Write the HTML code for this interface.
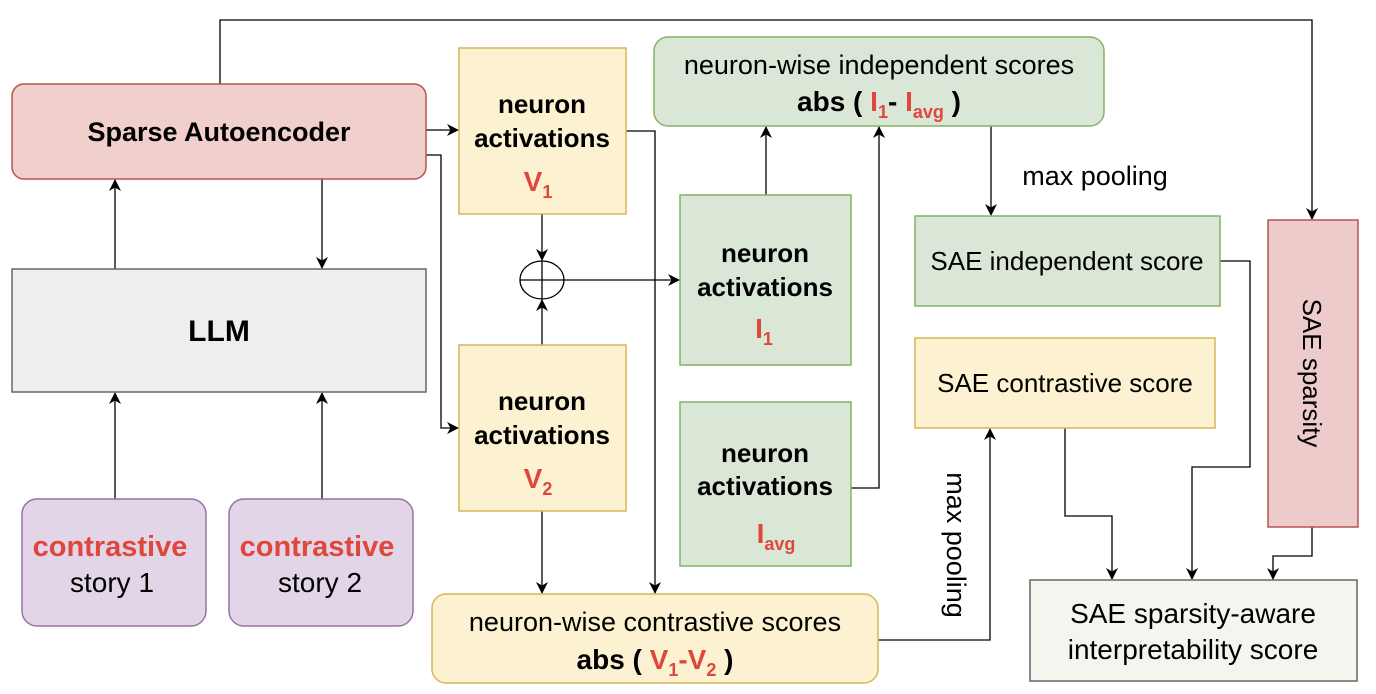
<!DOCTYPE html>
<html><head><style>body{margin:0;background:#fff}svg{display:block}text{font-family:"Liberation Sans",sans-serif}</style></head><body>
<svg width="1376" height="694" viewBox="0 0 1376 694" xmlns="http://www.w3.org/2000/svg">
<defs><marker id="a" markerWidth="12" markerHeight="12" refX="11" refY="6" orient="auto" markerUnits="userSpaceOnUse"><path d="M0,0 L12,6 L0,12 L3.5,6 z" fill="#000"/></marker></defs>
<g fill="none" stroke="#000" stroke-width="1.3">
<path d="M220,84 V20 H1312 V219" marker-end="url(#a)"/>
<path d="M426,130 H458" marker-end="url(#a)"/>
<path d="M426,155 H441 V428 H458" marker-end="url(#a)"/>
<path d="M322,179 V268" marker-end="url(#a)"/>
<path d="M115,269 V180" marker-end="url(#a)"/>
<path d="M115,499 V393" marker-end="url(#a)"/>
<path d="M322,499 V393" marker-end="url(#a)"/>
<path d="M542,214 V260" marker-end="url(#a)"/>
<path d="M542,345 V300" marker-end="url(#a)"/>
<path d="M564,280 H679" marker-end="url(#a)"/>
<path d="M626,131 H655 V593" marker-end="url(#a)"/>
<path d="M542,511 V593" marker-end="url(#a)"/>
<path d="M766,195 V127" marker-end="url(#a)"/>
<path d="M851,488 H879 V127" marker-end="url(#a)"/>
<path d="M991,126 V215" marker-end="url(#a)"/>
<path d="M1220,261 H1250 V467 H1192 V579" marker-end="url(#a)"/>
<path d="M1065,428 V516 H1112 V579" marker-end="url(#a)"/>
<path d="M1312,527 V556 H1273 V579" marker-end="url(#a)"/>
<path d="M878,640 H990 V429" marker-end="url(#a)"/>
<ellipse cx="542" cy="280" rx="22" ry="19"/>
<path d="M520,280 H564 M542,261 V299"/>
</g>
<rect x="12" y="84" width="414" height="95" rx="12" fill="#f0cfcd" stroke="#b85450" stroke-width="1.5"/>
<rect x="12" y="269" width="414" height="123" fill="#eeeeee" stroke="#666" stroke-width="1.5"/>
<rect x="22" y="499" width="184" height="127" rx="15" fill="#e1d5e7" stroke="#9673a6" stroke-width="1.5"/>
<rect x="229" y="499" width="184" height="127" rx="15" fill="#e1d5e7" stroke="#9673a6" stroke-width="1.5"/>
<rect x="459" y="48" width="167" height="166" fill="#fcf1d1" stroke="#d6b656" stroke-width="1.5"/>
<rect x="459" y="345" width="167" height="166" fill="#fcf1d1" stroke="#d6b656" stroke-width="1.5"/>
<rect x="680" y="195" width="171" height="170" fill="#dae7d6" stroke="#82b366" stroke-width="1.5"/>
<rect x="680" y="402" width="171" height="164" fill="#dae7d6" stroke="#82b366" stroke-width="1.5"/>
<rect x="654" y="37" width="450" height="89" rx="14" fill="#dae7d6" stroke="#82b366" stroke-width="1.5"/>
<rect x="915" y="216" width="305" height="90" fill="#dae7d6" stroke="#82b366" stroke-width="1.5"/>
<rect x="915" y="338" width="300" height="90" fill="#fcf1d1" stroke="#d6b656" stroke-width="1.5"/>
<rect x="1268" y="220" width="90" height="307" fill="#eccbca" stroke="#b85450" stroke-width="1.5"/>
<rect x="1030" y="580" width="327" height="101" fill="#f5f5ef" stroke="#666" stroke-width="1.5"/>
<rect x="432" y="594" width="446" height="89" rx="14" fill="#fcf1d1" stroke="#d6b656" stroke-width="1.5"/>
<g font-size="28" text-anchor="middle" fill="#000">
<text x="219" y="141" font-weight="bold" font-size="27">Sparse Autoencoder</text>
<text x="219" y="341" font-weight="bold" font-size="30">LLM</text>
<text x="110" y="556" font-weight="bold" fill="#e0473c" font-size="29">contrastive</text>
<text x="112" y="592">story 1</text>
<text x="317" y="556" font-weight="bold" fill="#e0473c" font-size="29">contrastive</text>
<text x="320" y="592">story 2</text>
<g font-weight="bold" font-size="26">
<text x="542" y="113">neuron</text><text x="542" y="147">activations</text>
<text x="542" y="410">neuron</text><text x="542" y="444">activations</text>
<text x="765" y="262">neuron</text><text x="765" y="296">activations</text>
<text x="765" y="462">neuron</text><text x="765" y="495">activations</text>
</g>
<text x="538" y="191" font-weight="bold" fill="#e0473c">V<tspan font-size="18" dy="7">1</tspan></text>
<text x="538" y="488" font-weight="bold" fill="#e0473c">V<tspan font-size="18" dy="7">2</tspan></text>
<text x="764" y="338" font-weight="bold" fill="#e0473c">I<tspan font-size="18" dy="7">1</tspan></text>
<text x="776" y="543" font-weight="bold" fill="#e0473c">I<tspan font-size="18" dy="7">avg</tspan></text>
<text x="879" y="74" font-size="27">neuron-wise independent scores</text>
<text x="879" y="111" font-weight="bold">abs ( <tspan fill="#e0473c">I<tspan font-size="18" dy="7">1</tspan></tspan><tspan dy="-7">-  </tspan><tspan fill="#e0473c">I<tspan font-size="18" dy="7">avg</tspan></tspan><tspan dy="-7"> )</tspan></text>
<text x="1095" y="185" font-size="27">max pooling</text>
<text x="1067" y="270" font-size="26">SAE independent score</text>
<text x="1065" y="392" font-size="26">SAE contrastive score</text>
<text transform="translate(1303,373) rotate(90)" font-size="26">SAE sparsity</text>
<text transform="translate(947,545) rotate(90)" font-size="27">max pooling</text>
<text x="1193" y="623">SAE sparsity-aware</text>
<text x="1193" y="659">interpretability score</text>
<text x="655" y="631" font-size="27">neuron-wise contrastive scores</text>
<text x="655" y="669" font-weight="bold">abs ( <tspan fill="#e0473c">V<tspan font-size="18" dy="7">1</tspan></tspan><tspan dy="-7" fill="#e0473c">-V</tspan><tspan fill="#e0473c" font-size="18" dy="7">2</tspan><tspan dy="-7"> )</tspan></text>
</g>
</svg>
</body></html>
